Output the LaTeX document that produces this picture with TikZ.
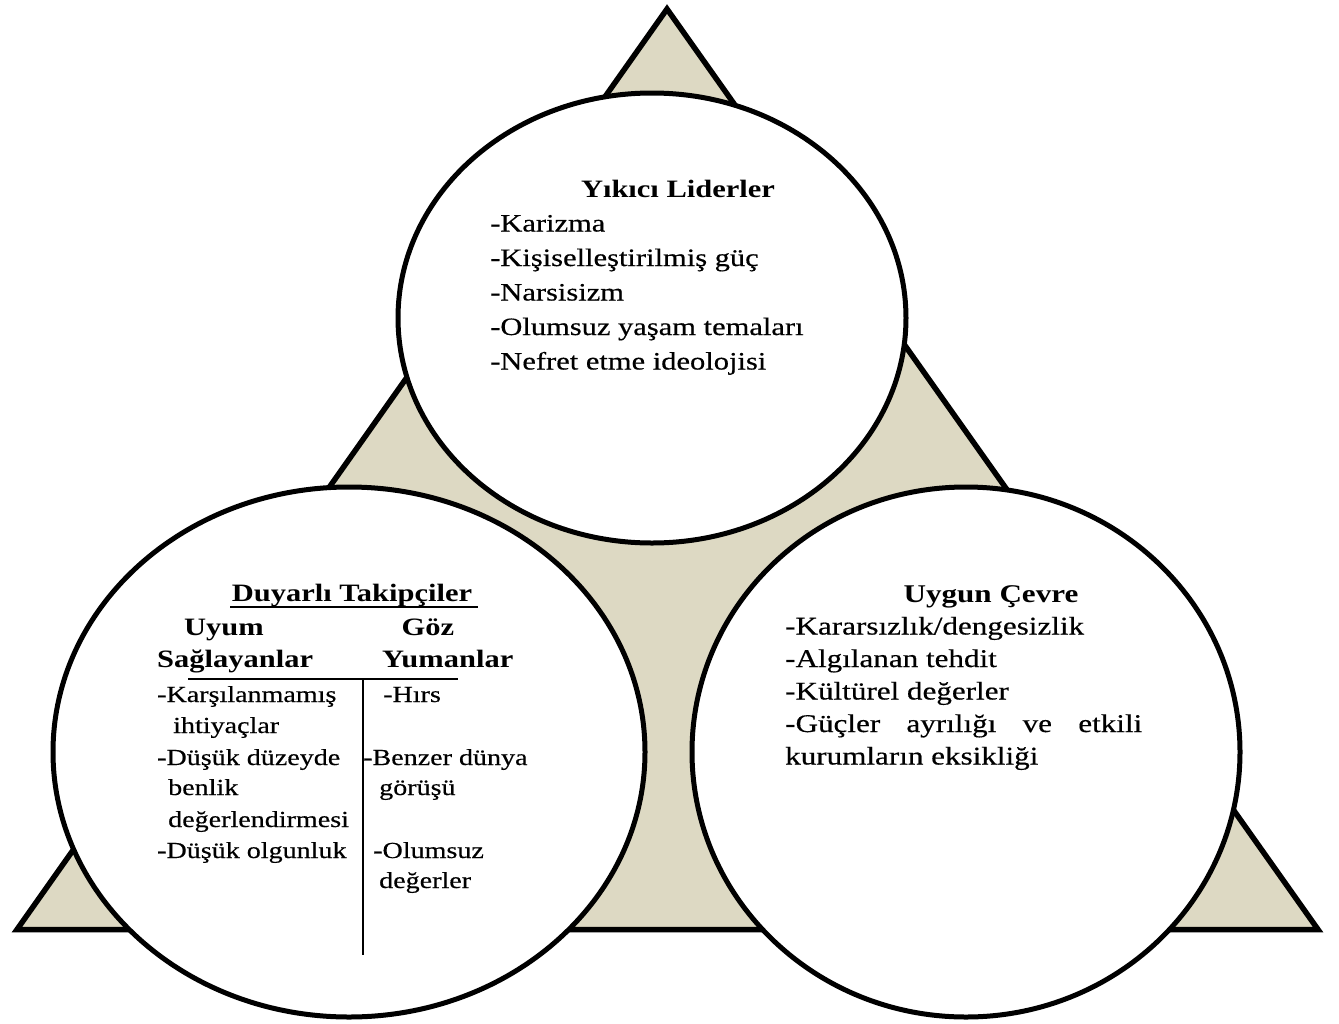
\documentclass[tikz,border=0pt]{standalone}
\usepackage{fontspec}
\setmainfont{Liberation Serif}[FakeStretch=1.22, UprightFeatures={FakeBold=0.45}]
\usetikzlibrary{shapes.geometric}

\definecolor{tanfill}{RGB}{221,217,195}

\tikzset{
  frame/.style={draw=black, line width=5.5pt, fill=tanfill, line join=miter},
  bubble/.style={ellipse, draw=black, line width=5pt, fill=white, inner sep=0pt, outer sep=0pt},
  topfont/.style={font=\fontsize{25}{30}\selectfont},
  topbold/.style={font=\bfseries\fontsize{25}{30}\selectfont},
  leftfont/.style={font=\fontsize{23}{28}\selectfont},
  leftbold/.style={font=\bfseries\fontsize{25}{30}\selectfont},
  rightfont/.style={font=\fontsize{25.5}{30}\selectfont},
  rightbold/.style={font=\bfseries\fontsize{25.5}{30}\selectfont},
  item/.style={anchor=base west, inner sep=0pt},
  head/.style={anchor=base, inner sep=0pt},
  rule/.style={draw=black, line width=1.6pt},
}

\begin{document}
\begin{tikzpicture}[x=1pt, y=-1pt]
  \useasboundingbox (0,0) rectangle (1339,1023);

  % background triangle
  \coordinate (apex) at (667,9);
  \coordinate (bl) at (17,929.5);
  \coordinate (br) at (1318,929.5);
  \draw[frame] (apex) -- (bl) -- (br) -- cycle;

  % three ellipses
  \node[bubble, minimum width=508pt, minimum height=450pt] (lead) at (652,318) {};
  \node[bubble, minimum width=592pt, minimum height=530pt] (foll) at (349,752) {};
  \node[bubble, minimum width=548pt, minimum height=530pt] (env)  at (966,752) {};

  % destructive leaders
  \begin{scope}[topfont]
    \node[head, topbold] (l0) at (678,197) {Yıkıcı Liderler};
    \node[item] (l1) at (490,231.5) {-Karizma};
    \node[item] (l2) at (490,266)   {-Kişiselleştirilmiş güç};
    \node[item] (l3) at (490,300.5) {-Narsisizm};
    \node[item] (l4) at (490,335)   {-Olumsuz yaşam temaları};
    \node[item] (l5) at (490,369.5) {-Nefret etme ideolojisi};
  \end{scope}

  % susceptible followers
  \begin{scope}[leftfont]
    \node[head, leftbold] (f0) at (352,601) {Duyarlı Takipçiler};
    \node[head, leftbold] (fa) at (224,635) {Uyum};
    \node[head, leftbold] (fb) at (428,635) {Göz};
    \node[item, leftbold] (fc) at (157,667) {Sağlayanlar};
    \node[item, leftbold] (fd) at (382,667) {Yumanlar};

    \node[item] (f1) at (157,702) {-Karşılanmamış};
    \node[item] (f2) at (173,733) {ihtiyaçlar};
    \node[item] (f3) at (157,765) {-Düşük düzeyde};
    \node[item] (f4) at (168,795) {benlik};
    \node[item] (f5) at (168,827) {değerlendirmesi};
    \node[item] (f6) at (157,858) {-Düşük olgunluk};

    \node[item] (g1) at (383,702) {-Hırs};
    \node[item] (g2) at (363,765) {-Benzer dünya};
    \node[item] (g3) at (379,795) {görüşü};
    \node[item] (g4) at (373,858) {-Olumsuz};
    \node[item] (g5) at (379,888) {değerler};
  \end{scope}

  % underline of the heading, column rule and divider
  \coordinate (u0) at (230,607);
  \coordinate (u1) at (478,607);
  \draw[rule, line width=2pt] (u0) -- (u1);
  \coordinate (r0) at (188,679);
  \coordinate (r1) at (458,679);
  \draw[rule] (r0) -- (r1);
  \coordinate (v0) at (363,679);
  \coordinate (v1) at (363,955);
  \draw[rule, line width=2pt] (v0) -- (v1);

  % conducive environment
  \begin{scope}[rightfont]
    \node[head, rightbold] (e0) at (991,602) {Uygun Çevre};
    \node[item] (e1) at (785,634.5) {-Kararsızlık/dengesizlik};
    \node[item] (e2) at (785,667)   {-Algılanan tehdit};
    \node[item] (e3) at (785,699.5) {-Kültürel değerler};
    \node[item] (e4) at (785,732)   {\makebox[357pt][s]{-Güçler\hfill ayrılığı\hfill ve\hfill etkili}};
    \node[item] (e5) at (785,764.5) {kurumların eksikliği};
  \end{scope}
\end{tikzpicture}
\end{document}
